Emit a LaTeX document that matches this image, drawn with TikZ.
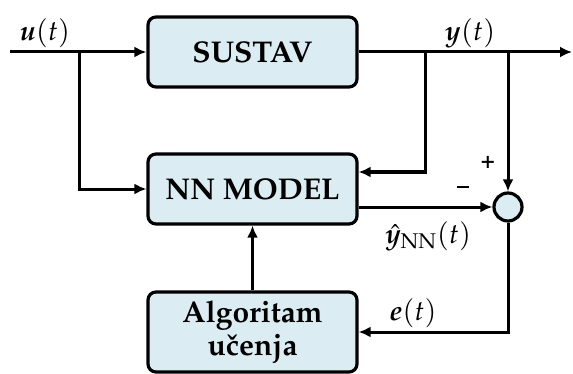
\documentclass[tikz,border=0pt]{standalone}
\usepackage[T1]{fontenc}
\usepackage{mathpazo}
\usepackage{amsmath}
\usepackage{bm}
\usetikzlibrary{arrows.meta}
\definecolor{boxblue}{RGB}{219,236,242}
\tikzset{
  block/.style={draw,line width=1.6pt,fill=boxblue,rounded corners=4pt,
    minimum width=104.5pt,minimum height=35pt,align=center,
    font=\bfseries\fontsize{15}{17}\selectfont},
  sig/.style={line width=1.5pt,-{Latex[length=6pt,width=5.5pt]}},
  wire/.style={line width=1.5pt},
  lbl/.style={inner sep=1pt,font=\fontsize{14}{16}\selectfont}
}
\begin{document}
\begin{tikzpicture}[x=0.5pt,y=-0.5pt]
\useasboundingbox (0,0) rectangle (573,374);
% blocks
\node [block] (sys) at (252.5,52) {SUSTAV};
\node [block] (nn) at (252.5,189) {NN MODEL};
\node [block,minimum height=40pt] (alg) at (252.5,332) {Algoritam\\u\v{c}enja};
\node [draw,circle,line width=1.6pt,fill=boxblue,minimum size=14pt,inner sep=0pt] (sum) at (508,207) {};
% branch points
\coordinate (in) at (10,52);
\coordinate (ju) at (79,52);
\coordinate (jy) at (425,52);
\coordinate (je) at (508,52);
\coordinate (out) at (572,52);
% signals
\draw [sig] (in) -- (sys.west);
\draw [wire] (sys.east) -- (je);
\draw [sig] (je) -- (out);
\draw [sig] (ju) |- (nn.west);
\draw [sig] (jy) |- ([yshift=8.5pt]nn.east);
\draw [sig] (je) -- (sum.north);
\draw [sig] (nn.east |- sum.west) -- (sum.west);
\draw [sig] (sum.south) |- (alg.east);
\draw [sig] (alg.north) -- (nn.south);
% labels
\node [lbl] (lu) at (45,33) {$\bm{u}(t)$};
\node [lbl] (ly) at (470,33) {$\bm{y}(t)$};
\node [lbl] (lyh) at (428,236) {$\hat{\bm{y}}_{\mathrm{NN}}(t)$};
\node [lbl] (le) at (413,313) {$\bm{e}(t)$};
\node [inner sep=0pt,font=\bfseries\fontsize{12}{12}\selectfont] (lp) at (488,162) {+};
\node [inner sep=0pt,font=\bfseries\fontsize{12}{12}\selectfont] (lm) at (463,190) {--};
\end{tikzpicture}
\end{document}
